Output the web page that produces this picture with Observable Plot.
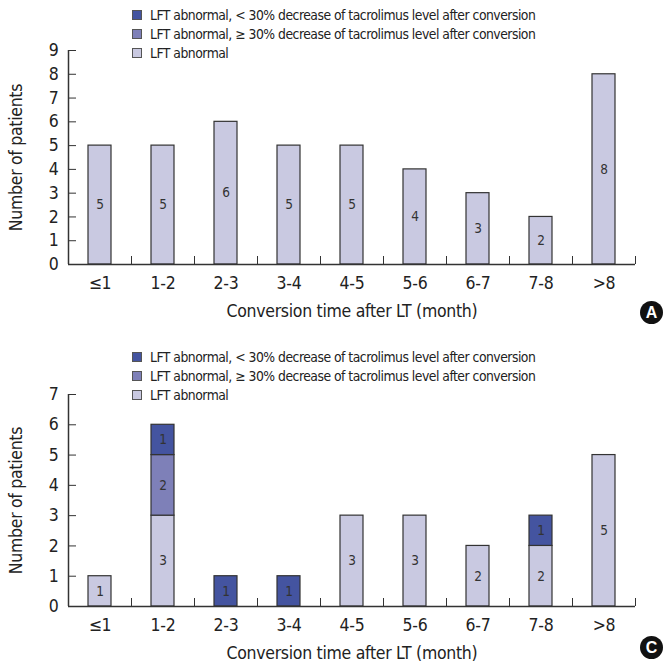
<!DOCTYPE html>
<html><head><meta charset="utf-8">
<script src="https://cdn.jsdelivr.net/npm/d3@7"></script>
<script src="https://cdn.jsdelivr.net/npm/@observablehq/plot@0.6"></script>
<style>
body{margin:0;background:#fff;}
.panel{position:relative;width:663px;}
.legend{position:absolute;left:132px;font-family:"DejaVu Sans Condensed",sans-serif;font-size:13.8px;letter-spacing:-0.5px;color:#222;}
.legend .row{display:flex;align-items:center;height:19px;white-space:nowrap;}
.sw{width:8px;height:8px;border:1px solid #555;margin-right:8px;}
.badge{position:absolute;width:23px;height:23px;border-radius:50%;background:#111;color:#fff;font:bold 16px "Liberation Sans",sans-serif;display:flex;align-items:center;justify-content:center;}
svg text{letter-spacing:-0.3px;}
</style>
</head><body>
<div id="root"></div>
<script>
const categories = ["≤1","1-2","2-3","3-4","4-5","5-6","6-7","7-8",">8"];
const seriesNames = [
  "LFT abnormal, < 30% decrease of tacrolimus level after conversion",
  "LFT abnormal, ≥ 30% decrease of tacrolimus level after conversion",
  "LFT abnormal"
];
const seriesColors = ["#4454a0", "#7e80b8", "#c9c9e1"];
// Panel A
const panelA_abnormal = [5,5,6,5,5,4,3,2,8];
// Panel C
const panelC_abnormal = [1,3,0,0,3,3,2,2,5];
const panelC_ge30    = [0,2,0,0,0,0,0,0,0];
const panelC_lt30    = [0,1,1,1,0,0,0,1,0];
const yTicksA = [0,1,2,3,4,5,6,7,8,9];
const yTicksC = [0,1,2,3,4,5,6,7];
const xTitle = "Conversion time after LT (month)";
const yTitle = "Number of patients";

const FONT = '"DejaVu Sans Condensed",sans-serif';
const stackOrder = [seriesNames[2], seriesNames[1], seriesNames[0]];

function rows(list) {
  const out = [];
  for (const [name, vals] of list) vals.forEach((v, i) => { if (v > 0) out.push({cat: categories[i], series: name, value: v}); });
  return out;
}

const W = 663, ML = 68, MR = 28;
const step = (W - ML - MR) / categories.length;

function panel({data, yTicks, height, marginTop, marginBottom, letter, legendTop, badgeTop}) {
  const plotH = height - marginTop - marginBottom;
  const plotW = W - ML - MR;
  const yMax = yTicks[yTicks.length - 1];
  const chart = Plot.plot({
    width: W, height, marginLeft: ML, marginRight: MR, marginTop, marginBottom,
    style: {fontFamily: FONT, fontSize: "17.5px", color: "#222", background: "white"},
    x: {domain: categories, paddingInner: 0.63, paddingOuter: 0.315, align: 0.5},
    y: {domain: [0, yMax]},
    color: {domain: seriesNames, range: seriesColors},
    marks: [
      Plot.barY(data, {x: "cat", y: "value", fill: "series", z: "series", order: stackOrder, stroke: "#333", strokeWidth: 1.2}),
      Plot.text(data, Plot.stackY({x: "cat", y: "value", z: "series", order: stackOrder, text: "value", fontSize: 13.5, fill: "#333"})),
      Plot.ruleY([0], {stroke: "#333", strokeWidth: 1.5}),
      // vertical axis line at the left edge of the first band step
      Plot.tickX([categories[0]], {x: d => d, dx: -step / 2, stroke: "#333", strokeWidth: 1.5}),
      Plot.axisY({ticks: yTicks, tickSize: 0, tickPadding: 10, tickFormat: d => d, label: yTitle, labelArrow: "none", labelAnchor: "center", labelOffset: 59}),
      Plot.tickY(yTicks.slice(1), {y: d => d, insetRight: plotW - 8, stroke: "#333"}),
      Plot.tickX(categories, {x: d => d, dx: step / 2, insetTop: plotH - 8, stroke: "#333"}),
      Plot.axisX({tickSize: 0, tickPadding: 12, label: xTitle, labelArrow: "none", labelAnchor: "center", labelOffset: 52})
    ]
  });
  const div = document.createElement("div");
  div.className = "panel";
  div.appendChild(chart);
  const lg = document.createElement("div");
  lg.className = "legend";
  lg.style.top = legendTop + "px";
  seriesNames.forEach((n, i) => {
    const r = document.createElement("div"); r.className = "row";
    const s = document.createElement("div"); s.className = "sw"; s.style.background = seriesColors[i];
    const t = document.createElement("span"); t.textContent = n;
    r.appendChild(s); r.appendChild(t); lg.appendChild(r);
  });
  div.appendChild(lg);
  const b = document.createElement("div");
  b.className = "badge"; b.textContent = letter;
  b.style.left = "640px"; b.style.top = badgeTop + "px";
  div.appendChild(b);
  return div;
}

const root = document.getElementById("root");
root.appendChild(panel({
  data: rows([[seriesNames[2], panelA_abnormal]]),
  yTicks: yTicksA, height: 330, marginTop: 50, marginBottom: 66, letter: "A", legendTop: 5.5, badgeTop: 301
}));
root.appendChild(panel({
  data: rows([[seriesNames[2], panelC_abnormal], [seriesNames[1], panelC_ge30], [seriesNames[0], panelC_lt30]]),
  yTicks: yTicksC, height: 335, marginTop: 64, marginBottom: 59, letter: "C", legendTop: 17.5, badgeTop: 306
}));
</script>
</body></html>
